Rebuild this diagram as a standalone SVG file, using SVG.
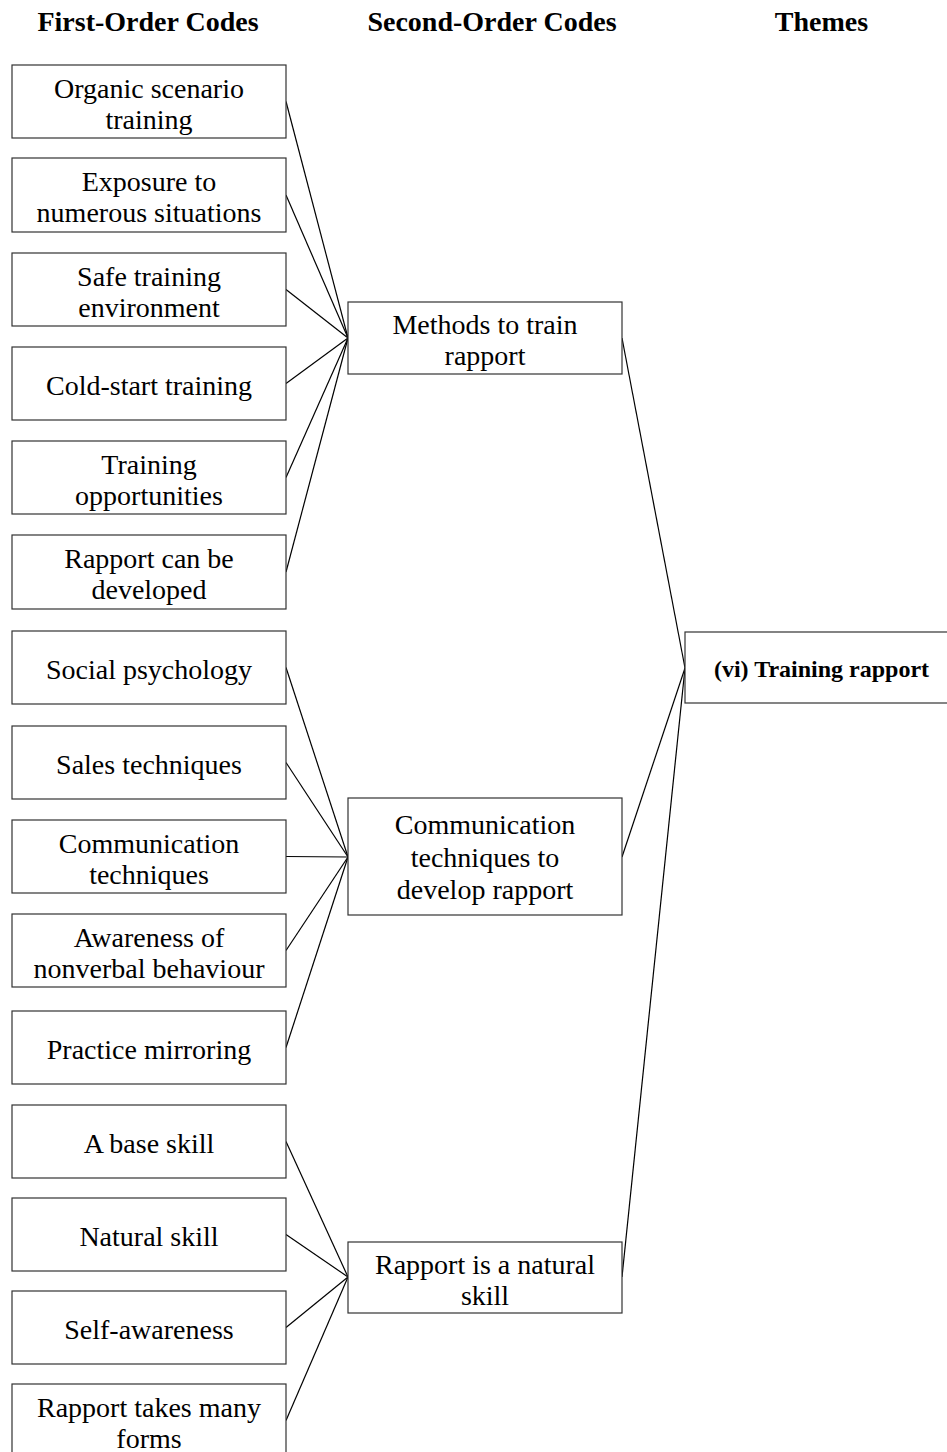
<svg xmlns="http://www.w3.org/2000/svg" width="947" height="1452" viewBox="0 0 947 1452">
<style>
.box{fill:#fff;stroke:#333;stroke-width:1.2}
.t{font-family:"Liberation Serif","Times New Roman",serif;font-size:28px;fill:#000;text-anchor:middle}
.h{font-family:"Liberation Serif","Times New Roman",serif;font-size:28px;font-weight:bold;fill:#000;text-anchor:middle}
.th{font-family:"Liberation Serif","Times New Roman",serif;font-size:24px;font-weight:bold;fill:#000;text-anchor:middle}
.c{stroke:#000;stroke-width:1.2;fill:none}
</style>
<rect width="947" height="1452" fill="#fff"/>
<g id="headers">
<text class="h" x="148" y="31">First-Order Codes</text>
<text class="h" x="492" y="31">Second-Order Codes</text>
<text class="h" x="821.5" y="31">Themes</text>
</g>
<g id="connectors">
<line class="c" x1="286" y1="101.5" x2="348" y2="338"/>
<line class="c" x1="286" y1="195" x2="348" y2="338"/>
<line class="c" x1="286" y1="289.5" x2="348" y2="338"/>
<line class="c" x1="286" y1="383.5" x2="348" y2="338"/>
<line class="c" x1="286" y1="477.5" x2="348" y2="338"/>
<line class="c" x1="286" y1="572" x2="348" y2="338"/>
<line class="c" x1="286" y1="667.5" x2="348" y2="857"/>
<line class="c" x1="286" y1="762.5" x2="348" y2="857"/>
<line class="c" x1="286" y1="856.5" x2="348" y2="857"/>
<line class="c" x1="286" y1="950.5" x2="348" y2="857"/>
<line class="c" x1="286" y1="1047.5" x2="348" y2="857"/>
<line class="c" x1="286" y1="1141.5" x2="348" y2="1277"/>
<line class="c" x1="286" y1="1234.5" x2="348" y2="1277"/>
<line class="c" x1="286" y1="1327.5" x2="348" y2="1277"/>
<line class="c" x1="286" y1="1420.5" x2="348" y2="1277"/>
<line class="c" x1="622" y1="338" x2="685" y2="668"/>
<line class="c" x1="622" y1="857" x2="685" y2="668"/>
<line class="c" x1="622" y1="1277" x2="685" y2="668"/>
</g>
<g id="n1"><rect class="box" x="12" y="65" width="274" height="73"/><text class="t" x="149" y="97.5">Organic scenario</text><text class="t" x="149" y="128.5">training</text></g>
<g id="n2"><rect class="box" x="12" y="158" width="274" height="74"/><text class="t" x="149" y="191">Exposure to</text><text class="t" x="149" y="222">numerous situations</text></g>
<g id="n3"><rect class="box" x="12" y="253" width="274" height="73"/><text class="t" x="149" y="285.5">Safe training</text><text class="t" x="149" y="316.5">environment</text></g>
<g id="n4"><rect class="box" x="12" y="347" width="274" height="73"/><text class="t" x="149" y="394.5">Cold-start training</text></g>
<g id="n5"><rect class="box" x="12" y="441" width="274" height="73"/><text class="t" x="149" y="473.5">Training</text><text class="t" x="149" y="504.5">opportunities</text></g>
<g id="n6"><rect class="box" x="12" y="535" width="274" height="74"/><text class="t" x="149" y="568">Rapport can be</text><text class="t" x="149" y="599">developed</text></g>
<g id="n7"><rect class="box" x="12" y="631" width="274" height="73"/><text class="t" x="149" y="678.5">Social psychology</text></g>
<g id="n8"><rect class="box" x="12" y="726" width="274" height="73"/><text class="t" x="149" y="773.5">Sales techniques</text></g>
<g id="n9"><rect class="box" x="12" y="820" width="274" height="73"/><text class="t" x="149" y="852.5">Communication</text><text class="t" x="149" y="883.5">techniques</text></g>
<g id="n10"><rect class="box" x="12" y="914" width="274" height="73"/><text class="t" x="149" y="946.5">Awareness of</text><text class="t" x="149" y="977.5">nonverbal behaviour</text></g>
<g id="n11"><rect class="box" x="12" y="1011" width="274" height="73"/><text class="t" x="149" y="1058.5">Practice mirroring</text></g>
<g id="n12"><rect class="box" x="12" y="1105" width="274" height="73"/><text class="t" x="149" y="1152.5">A base skill</text></g>
<g id="n13"><rect class="box" x="12" y="1198" width="274" height="73"/><text class="t" x="149" y="1245.5">Natural skill</text></g>
<g id="n14"><rect class="box" x="12" y="1291" width="274" height="73"/><text class="t" x="149" y="1338.5">Self-awareness</text></g>
<g id="n15"><rect class="box" x="12" y="1384" width="274" height="73"/><text class="t" x="149" y="1416.5">Rapport takes many</text><text class="t" x="149" y="1447.5">forms</text></g>
<g id="s1"><rect class="box" x="348" y="302" width="274" height="72"/><text class="t" x="485" y="334">Methods to train</text><text class="t" x="485" y="365">rapport</text></g>
<g id="s2"><rect class="box" x="348" y="798" width="274" height="117"/><text class="t" x="485" y="834">Communication</text><text class="t" x="485" y="866.5">techniques to</text><text class="t" x="485" y="899">develop rapport</text></g>
<g id="s3"><rect class="box" x="348" y="1242" width="274" height="71"/><text class="t" x="485" y="1273.5">Rapport is a natural</text><text class="t" x="485" y="1304.5">skill</text></g>
<g id="theme"><rect class="box" x="685" y="632" width="274" height="71"/><text class="th" x="821.5" y="677">(vi) Training rapport</text></g>
</svg>
